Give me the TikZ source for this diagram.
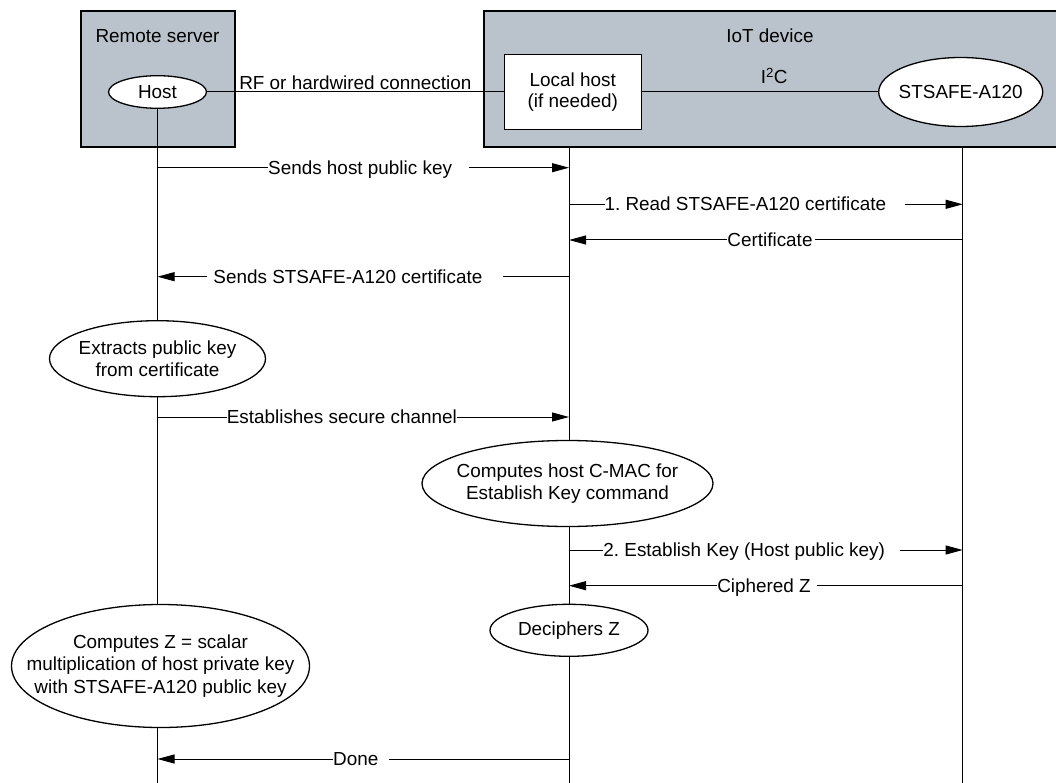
\documentclass[tikz,border=0pt]{standalone}
\usepackage{fontspec}
\setmainfont{Liberation Sans}
\usetikzlibrary{arrows.meta,shapes.geometric}

\definecolor{unitgray}{RGB}{186,195,203}

\begin{document}
\begin{tikzpicture}[x=1pt, y=-1pt,
    every node/.style={font=\fontsize{18.9}{22.5}\selectfont\frenchspacing},
    unit/.style={draw=black, line width=2.2pt, fill=unitgray, inner sep=0pt},
    proc/.style={ellipse, draw=black, line width=1.3pt, fill=white, inner sep=-40pt, align=center},
    life/.style={black, line width=1pt},
    msg/.style={black, line width=1pt, -{Triangle[length=17pt,width=9pt]}},
    lbl/.style={fill=white, inner sep=0pt, text height=14pt, text depth=1pt}]
    \useasboundingbox (0,0) rectangle (1056,783);

    % server and device
    \node[unit, minimum width=154pt, minimum height=136pt] (server) at (157.7,79.2) {};
    \node[unit, minimum width=576pt, minimum height=136pt] (iot) at (772,79.2) {};
    \node[anchor=base] (servername) at (157.5,42.5) {Remote server};
    \node[anchor=base] (iotname) at (770,42.5) {IoT device};

    \node[proc, minimum width=98pt, minimum height=32.6pt] (host) at (157.5,92) {Host};
    \node[draw=black, line width=1.3pt, fill=white, inner sep=0pt, align=center,
          minimum width=137pt, minimum height=75pt] (local) at (572.7,92) {Local host\\[-1pt](if needed)};
    \node[proc, minimum width=164pt, minimum height=69pt] (st) at (960.7,92) {STSAFE-A120};

    \draw[life] (host) -- node[above, inner sep=2pt] (rf) {RF or hardwired connection} (local);
    \draw[life] (local) -- node[above, pos=0.56, inner sep=8pt] (i2c) {I\textsuperscript{2}C} (st);

    % lifelines
    \coordinate (hostend) at (157.5,783);
    \coordinate (localtop) at (569,147.3);
    \coordinate (localend) at (569,783);
    \coordinate (sttop) at (962.7,147.3);
    \coordinate (stend) at (962.7,783);
    \draw[life] (host) -- (hostend);
    \draw[life] (localtop) -- (localend);
    \draw[life] (sttop) -- (stend);

    % processing steps
    \node[proc, minimum width=216pt, minimum height=76pt] (extract) at (157.5,358.7) {Extracts public key\\from certificate};
    \node[proc, minimum width=291pt, minimum height=86pt] (cmac) at (567.5,483.5) {Computes host C-MAC for\\Establish Key command};
    \node[proc, minimum width=158pt, minimum height=52pt] (decipher) at (569,630.3) {Deciphers Z};
    \node[proc, minimum width=298pt, minimum height=123pt] (compz) at (160.5,666) {Computes Z = scalar\\multiplication of host private key\\with STSAFE-A120 public key};

    % messages
    \coordinate (h1) at (157.5,167.7); \coordinate (l1) at (569,167.7);
    \coordinate (l3) at (569,204.3);   \coordinate (s3) at (962.7,204.3);
    \coordinate (l4) at (569,240);     \coordinate (s4) at (962.7,240);
    \coordinate (h2) at (157.5,276.7); \coordinate (l2) at (569,276.7);
    \coordinate (h5) at (157.5,417);   \coordinate (l5) at (569,417);
    \coordinate (l6) at (569,550);     \coordinate (s6) at (962.7,550);
    \coordinate (l7) at (569,585.7);   \coordinate (s7) at (962.7,585.7);
    \coordinate (h8) at (157.5,759);   \coordinate (l8) at (569,759);

    \draw[msg] (h1) -- (l1) node[lbl, pos=0.513] (m1) {Sends host public key\kern17pt};
    \draw[msg] (l3) -- (s3) node[lbl, pos=0.472] (m3) {1. Read STSAFE-A120 certificate\kern19pt};
    \draw[msg] (s4) -- (l4) node[lbl, pos=0.487] (m4) {Certificate\kern2pt};
    \draw[msg] (l2) -- (h2) node[lbl, pos=0.519] (m2) {\kern6pt Sends STSAFE-A120 certificate\kern21pt};
    \draw[msg] (h5) -- (l5) node[lbl, pos=0.448] (m5) {Establishes secure channel};
    \draw[msg] (l6) -- (s6) node[lbl, pos=0.464] (m6) {2. Establish Key (Host public key)\kern15pt};
    \draw[msg] (s7) -- (l7) node[lbl, pos=0.497] (m7) {Ciphered Z\kern6pt};
    \draw[msg] (l8) -- (h8) node[lbl, pos=0.505] (m8) {Done\kern11pt};
\end{tikzpicture}
\end{document}
